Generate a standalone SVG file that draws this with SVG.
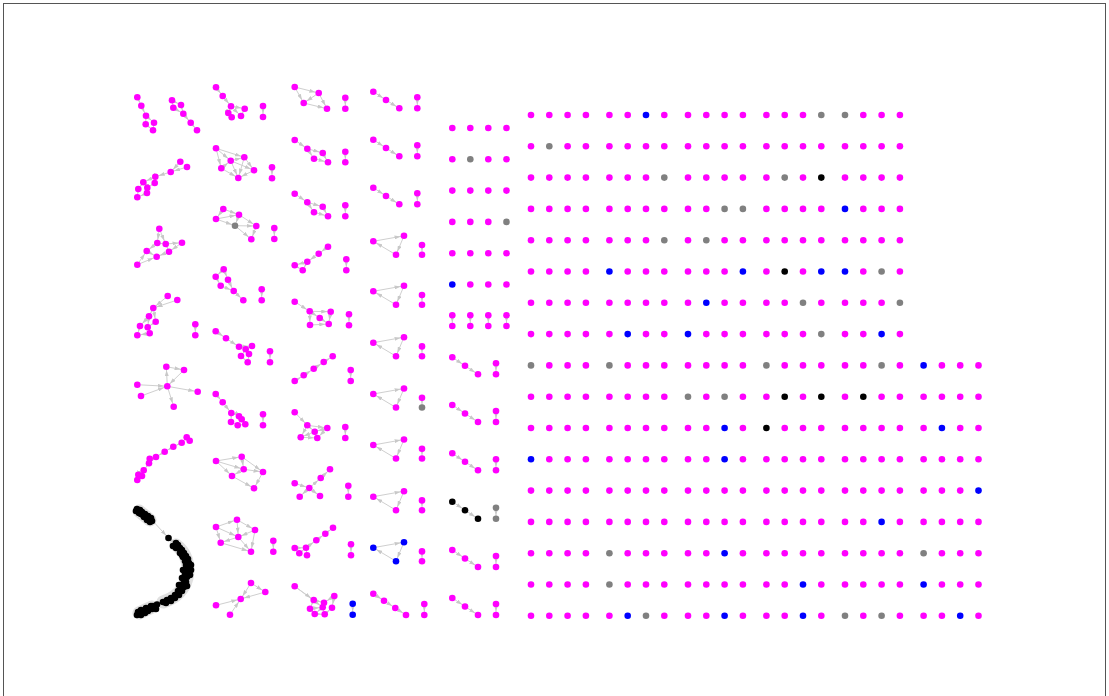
<svg xmlns="http://www.w3.org/2000/svg" width="1109" height="696" viewBox="0 0 1109 696">
<defs>
<marker id="ah" markerUnits="userSpaceOnUse" markerWidth="6" markerHeight="4" refX="9.5" refY="2" orient="auto"><path d="M0,0 L6,2 L0,4 z" fill="#c8c8c8"/></marker>
<style>
.e{stroke:#cfcfcf;stroke-width:1;fill:none;marker-end:url(#ah)}
.halo{stroke:#cccccc;stroke-width:13;fill:none;stroke-linecap:round;stroke-linejoin:round;opacity:0.6}
.m{fill:#ff00ff}.g{fill:#808080}.b{fill:#0000ff}.k{fill:#000000}
</style>
</defs>
<rect x="0" y="0" width="1109" height="696" fill="#ffffff"/>
<rect x="3.5" y="3.5" width="1102" height="720" fill="none" stroke="#555555" stroke-width="1"/>
<g id="connectors">
<path class="halo" d="M139,511 L150,520 M176,545 C186,552 190,565 187,578 C184,590 175,598 163,602 M152,607 L139,613"/>
<line class="e" x1="137.3" y1="97.3" x2="141.3" y2="105.7"/><line class="e" x1="141.3" y1="105.7" x2="146" y2="115.7"/><line class="e" x1="146" y1="115.7" x2="154" y2="122.7"/><line class="e" x1="146" y1="115.7" x2="145.7" y2="124.3"/><line class="e" x1="145.7" y1="124.3" x2="153" y2="130.3"/><line class="e" x1="154" y1="122.7" x2="153" y2="130.3"/>
<line class="e" x1="172" y1="100.3" x2="181" y2="105"/><line class="e" x1="172" y1="100.3" x2="173.3" y2="107.7"/><line class="e" x1="181" y1="105" x2="183.3" y2="113.7"/><line class="e" x1="173.3" y1="107.7" x2="183.3" y2="113.7"/><line class="e" x1="183.3" y1="113.7" x2="190.7" y2="122.7"/><line class="e" x1="190.7" y1="122.7" x2="197" y2="130.3"/>
<line class="e" x1="180.3" y1="161.7" x2="170.7" y2="172"/><line class="e" x1="187" y1="167" x2="170.7" y2="172"/><line class="e" x1="170.7" y1="172" x2="155.3" y2="176.7"/><line class="e" x1="155.3" y1="176.7" x2="143.3" y2="182.3"/><line class="e" x1="155.3" y1="176.7" x2="154.7" y2="183"/><line class="e" x1="143.3" y1="182.3" x2="138.3" y2="189"/><line class="e" x1="143.3" y1="182.3" x2="147.3" y2="187.7"/><line class="e" x1="154.7" y1="183" x2="147.3" y2="187.7"/><line class="e" x1="147.3" y1="187.7" x2="147" y2="193"/><line class="e" x1="138.3" y1="189" x2="137.3" y2="197.3"/><line class="e" x1="147" y1="193" x2="137.3" y2="197.3"/>
<line class="e" x1="159.3" y1="228.7" x2="157.3" y2="243"/><line class="e" x1="159.3" y1="228.7" x2="165.7" y2="244"/><line class="e" x1="157.3" y1="243" x2="165.7" y2="244"/><line class="e" x1="165.7" y1="244" x2="182" y2="242.7"/><line class="e" x1="157.3" y1="243" x2="146.7" y2="251"/><line class="e" x1="165.7" y1="244" x2="169" y2="251.7"/><line class="e" x1="146.7" y1="251" x2="156.7" y2="256.7"/><line class="e" x1="169" y1="251.7" x2="156.7" y2="256.7"/><line class="e" x1="182" y1="242.7" x2="169" y2="251.7"/><line class="e" x1="137.3" y1="264.7" x2="146.7" y2="251"/><line class="e" x1="137.3" y1="264.7" x2="156.7" y2="256.7"/>
<line class="e" x1="167.7" y1="296" x2="153.3" y2="308"/><line class="e" x1="177.3" y1="300" x2="153.3" y2="308"/><line class="e" x1="153.3" y1="308" x2="149" y2="316.3"/><line class="e" x1="153.3" y1="308" x2="155.7" y2="321.7"/><line class="e" x1="149" y1="316.3" x2="140" y2="326"/><line class="e" x1="149" y1="316.3" x2="147.7" y2="327.3"/><line class="e" x1="155.7" y1="321.7" x2="147.7" y2="327.3"/><line class="e" x1="140" y1="326" x2="137.3" y2="335.3"/><line class="e" x1="147.7" y1="327.3" x2="149.7" y2="333.3"/><line class="e" x1="149.7" y1="333.3" x2="137.3" y2="335.3"/><line class="e" x1="195.3" y1="324.3" x2="195.3" y2="335.3"/>
<line class="e" x1="167.3" y1="386.3" x2="166.3" y2="366.7"/><line class="e" x1="166.3" y1="366.7" x2="184" y2="370"/><line class="e" x1="184" y1="370" x2="167.3" y2="386.3"/><line class="e" x1="137.3" y1="384.7" x2="167.3" y2="386.3"/><line class="e" x1="141" y1="396" x2="167.3" y2="386.3"/><line class="e" x1="167.3" y1="386.3" x2="197.7" y2="391.7"/><line class="e" x1="167.3" y1="386.3" x2="173.7" y2="406.7"/>
<line class="e" x1="186.7" y1="437.3" x2="181.7" y2="442.7"/><line class="e" x1="181.7" y1="442.7" x2="173.3" y2="446.7"/><line class="e" x1="173.3" y1="446.7" x2="164.7" y2="451.7"/><line class="e" x1="164.7" y1="451.7" x2="156" y2="457"/><line class="e" x1="156" y1="457" x2="149" y2="463.3"/><line class="e" x1="149" y1="463.3" x2="143.7" y2="470.3"/><line class="e" x1="143.7" y1="470.3" x2="138.3" y2="474.7"/><line class="e" x1="138.3" y1="474.7" x2="137.3" y2="480"/>
<line class="e" x1="151" y1="519" x2="168.5" y2="538"/><line class="e" x1="168.5" y1="538" x2="177" y2="545"/><line class="e" x1="163" y1="602" x2="157" y2="604.5"/><line class="e" x1="157" y1="604.5" x2="151" y2="607"/>
<line class="e" x1="216" y1="87.3" x2="222.7" y2="96"/><line class="e" x1="222.7" y1="96" x2="231" y2="106.3"/><line class="e" x1="231" y1="106.3" x2="244.7" y2="108.7"/><line class="e" x1="231" y1="106.3" x2="228.3" y2="113"/><line class="e" x1="228.3" y1="113" x2="231.7" y2="117.3"/><line class="e" x1="231" y1="106.3" x2="241" y2="116"/><line class="e" x1="244.7" y1="108.7" x2="241" y2="116"/><line class="e" x1="263" y1="106" x2="263" y2="117"/>
<line class="e" x1="216" y1="148.3" x2="230.7" y2="160.7"/><line class="e" x1="216" y1="148.3" x2="244.3" y2="157.3"/><line class="e" x1="216" y1="148.3" x2="221.3" y2="168.3"/><line class="e" x1="230.7" y1="160.7" x2="244.3" y2="157.3"/><line class="e" x1="221.3" y1="168.3" x2="230.7" y2="160.7"/><line class="e" x1="230.7" y1="160.7" x2="254" y2="170.3"/><line class="e" x1="230.7" y1="160.7" x2="238.3" y2="178"/><line class="e" x1="244.3" y1="157.3" x2="254" y2="170.3"/><line class="e" x1="244.3" y1="157.3" x2="238.3" y2="178"/><line class="e" x1="221.3" y1="168.3" x2="238.3" y2="178"/><line class="e" x1="254" y1="170.3" x2="238.3" y2="178"/><line class="e" x1="272" y1="167.3" x2="272" y2="178.3"/>
<line class="e" x1="223.3" y1="209" x2="216" y2="219"/><line class="e" x1="223.3" y1="209" x2="239" y2="214.7"/><line class="e" x1="216" y1="219" x2="239" y2="214.7"/><line class="e" x1="216" y1="219" x2="235" y2="225.7"/><line class="e" x1="239" y1="214.7" x2="235" y2="225.7"/><line class="e" x1="235" y1="225.7" x2="256.3" y2="226"/><line class="e" x1="239" y1="214.7" x2="256.3" y2="226"/><line class="e" x1="256.3" y1="226" x2="251.3" y2="239.3"/><line class="e" x1="235" y1="225.7" x2="251.3" y2="239.3"/><line class="e" x1="274.3" y1="228" x2="274.3" y2="239"/>
<line class="e" x1="223.7" y1="269.3" x2="215.7" y2="276.7"/><line class="e" x1="223.7" y1="269.3" x2="228" y2="279.7"/><line class="e" x1="215.7" y1="276.7" x2="220.7" y2="285.7"/><line class="e" x1="228" y1="279.7" x2="233.7" y2="291"/><line class="e" x1="220.7" y1="285.7" x2="233.7" y2="291"/><line class="e" x1="233.7" y1="291" x2="243.3" y2="300.3"/><line class="e" x1="261.7" y1="289.3" x2="261.7" y2="300.3"/>
<line class="e" x1="215.7" y1="331.3" x2="226" y2="338.3"/><line class="e" x1="226" y1="338.3" x2="239" y2="346.7"/><line class="e" x1="239" y1="346.7" x2="252" y2="346"/><line class="e" x1="239" y1="346.7" x2="245.7" y2="349.3"/><line class="e" x1="252" y1="346" x2="245.7" y2="349.3"/><line class="e" x1="245.7" y1="349.3" x2="249" y2="354"/><line class="e" x1="245.7" y1="349.3" x2="241" y2="356"/><line class="e" x1="249" y1="354" x2="247.7" y2="362.3"/><line class="e" x1="241" y1="356" x2="247.7" y2="362.3"/><line class="e" x1="270" y1="351.3" x2="270" y2="362.3"/>
<line class="e" x1="215.7" y1="394" x2="222.7" y2="402.3"/><line class="e" x1="222.7" y1="402.3" x2="231.3" y2="413"/><line class="e" x1="231.3" y1="413" x2="239" y2="416.3"/><line class="e" x1="231.3" y1="413" x2="231" y2="422"/><line class="e" x1="239" y1="416.3" x2="241.7" y2="419.3"/><line class="e" x1="241.7" y1="419.3" x2="245.3" y2="424.3"/><line class="e" x1="231" y1="422" x2="237.7" y2="425.3"/><line class="e" x1="237.7" y1="425.3" x2="245.3" y2="424.3"/><line class="e" x1="263" y1="414.3" x2="263" y2="425.3"/>
<line class="e" x1="216" y1="461" x2="241.7" y2="456.7"/><line class="e" x1="216" y1="461" x2="232" y2="476"/><line class="e" x1="241.7" y1="456.7" x2="243.7" y2="469.3"/><line class="e" x1="241.7" y1="456.7" x2="263" y2="472"/><line class="e" x1="243.7" y1="469.3" x2="232" y2="476"/><line class="e" x1="243.7" y1="469.3" x2="263" y2="472"/><line class="e" x1="232" y1="476" x2="254" y2="488.3"/><line class="e" x1="263" y1="472" x2="254" y2="488.3"/><line class="e" x1="216" y1="461" x2="243.7" y2="469.3"/>
<line class="e" x1="216" y1="527" x2="237" y2="519.7"/><line class="e" x1="237" y1="519.7" x2="255" y2="530"/><line class="e" x1="216" y1="527" x2="238.3" y2="537"/><line class="e" x1="237" y1="519.7" x2="238.3" y2="537"/><line class="e" x1="255" y1="530" x2="238.3" y2="537"/><line class="e" x1="216" y1="527" x2="220.7" y2="542.7"/><line class="e" x1="238.3" y1="537" x2="220.7" y2="542.7"/><line class="e" x1="238.3" y1="537" x2="251" y2="551.7"/><line class="e" x1="220.7" y1="542.7" x2="251" y2="551.7"/><line class="e" x1="255" y1="530" x2="251" y2="551.7"/><line class="e" x1="273.3" y1="540.7" x2="273.3" y2="551.7"/>
<line class="e" x1="251" y1="583" x2="265.3" y2="592"/><line class="e" x1="251" y1="583" x2="240.7" y2="599"/><line class="e" x1="265.3" y1="592" x2="240.7" y2="599"/><line class="e" x1="216" y1="605.3" x2="240.7" y2="599"/><line class="e" x1="230" y1="614.7" x2="240.7" y2="599"/>
<line class="e" x1="294.7" y1="87" x2="318.7" y2="93"/><line class="e" x1="294.7" y1="87" x2="303.7" y2="103"/><line class="e" x1="318.7" y1="93" x2="303.7" y2="103"/><line class="e" x1="303.7" y1="103" x2="327" y2="108.7"/><line class="e" x1="318.7" y1="93" x2="327" y2="108.7"/><line class="e" x1="345.3" y1="97.7" x2="345.3" y2="108.7"/>
<line class="e" x1="294.7" y1="140" x2="307.3" y2="148.7"/><line class="e" x1="307.3" y1="148.7" x2="322.7" y2="153"/><line class="e" x1="307.3" y1="148.7" x2="314" y2="158.7"/><line class="e" x1="322.7" y1="153" x2="328" y2="162.3"/><line class="e" x1="314" y1="158.7" x2="328" y2="162.3"/><line class="e" x1="345.3" y1="151.7" x2="345.3" y2="162.3"/>
<line class="e" x1="294.7" y1="193.7" x2="307.3" y2="202.3"/><line class="e" x1="307.3" y1="202.3" x2="322.7" y2="206.7"/><line class="e" x1="307.3" y1="202.3" x2="314" y2="212.3"/><line class="e" x1="322.7" y1="206.7" x2="328" y2="216.3"/><line class="e" x1="314" y1="212.3" x2="328" y2="216.3"/><line class="e" x1="345.3" y1="205.3" x2="345.3" y2="216.3"/>
<line class="e" x1="328" y1="246.7" x2="318.7" y2="253.7"/><line class="e" x1="318.7" y1="253.7" x2="307.3" y2="261.7"/><line class="e" x1="307.3" y1="261.7" x2="294.7" y2="265.3"/><line class="e" x1="307.3" y1="261.7" x2="302.7" y2="270.3"/><line class="e" x1="294.7" y1="265.3" x2="302.7" y2="270.3"/><line class="e" x1="346.3" y1="259.3" x2="346.3" y2="270.3"/>
<line class="e" x1="294.7" y1="301.7" x2="309.7" y2="311.3"/><line class="e" x1="309.7" y1="311.3" x2="330.7" y2="311.7"/><line class="e" x1="309.7" y1="311.3" x2="310" y2="325"/><line class="e" x1="330.7" y1="311.7" x2="328.7" y2="324"/><line class="e" x1="310" y1="325" x2="328.7" y2="324"/><line class="e" x1="309.7" y1="311.3" x2="319.7" y2="318"/><line class="e" x1="319.7" y1="318" x2="328.7" y2="324"/><line class="e" x1="349" y1="314.3" x2="349" y2="325.3"/>
<line class="e" x1="294.7" y1="381" x2="303.7" y2="375.3"/><line class="e" x1="303.7" y1="375.3" x2="313.7" y2="368.7"/><line class="e" x1="313.7" y1="368.7" x2="323.7" y2="362"/><line class="e" x1="323.7" y1="362" x2="332.7" y2="356.3"/><line class="e" x1="350.7" y1="370" x2="350.7" y2="381"/>
<line class="e" x1="294.7" y1="412.3" x2="307.3" y2="425.3"/><line class="e" x1="307.3" y1="425.3" x2="327.3" y2="428"/><line class="e" x1="307.3" y1="425.3" x2="314.7" y2="431.7"/><line class="e" x1="307.3" y1="425.3" x2="300.7" y2="437.3"/><line class="e" x1="327.3" y1="428" x2="314.7" y2="431.7"/><line class="e" x1="314.7" y1="431.7" x2="300.7" y2="437.3"/><line class="e" x1="314.7" y1="431.7" x2="317.3" y2="438"/><line class="e" x1="300.7" y1="437.3" x2="317.3" y2="438"/><line class="e" x1="327.3" y1="428" x2="317.3" y2="438"/><line class="e" x1="345.3" y1="427" x2="345.3" y2="438"/>
<line class="e" x1="294.7" y1="483.3" x2="309.3" y2="488"/><line class="e" x1="309.3" y1="488" x2="320.7" y2="478"/><line class="e" x1="320.7" y1="478" x2="330" y2="469.3"/><line class="e" x1="309.3" y1="488" x2="299.7" y2="496.7"/><line class="e" x1="309.3" y1="488" x2="320" y2="496"/><line class="e" x1="348.3" y1="485.7" x2="348.3" y2="496.7"/>
<line class="e" x1="294.7" y1="548" x2="306" y2="547.7"/><line class="e" x1="299.3" y1="553.3" x2="306" y2="547.7"/><line class="e" x1="306" y1="547.7" x2="307" y2="555.3"/><line class="e" x1="306" y1="547.7" x2="316.3" y2="540.3"/><line class="e" x1="316.3" y1="540.3" x2="325.3" y2="533.7"/><line class="e" x1="325.3" y1="533.7" x2="333" y2="527.7"/><line class="e" x1="351" y1="544.3" x2="351" y2="555.3"/>
<line class="e" x1="294.7" y1="586.3" x2="322.7" y2="607.3"/><line class="e" x1="294.7" y1="586.3" x2="313.7" y2="600"/><line class="e" x1="313.7" y1="600" x2="324" y2="602.7"/><line class="e" x1="313.7" y1="600" x2="310" y2="608.7"/><line class="e" x1="334.3" y1="596" x2="324" y2="602.7"/><line class="e" x1="334.3" y1="596" x2="332" y2="607.7"/><line class="e" x1="310" y1="608.7" x2="314.7" y2="614"/><line class="e" x1="314.7" y1="614" x2="324.7" y2="614.3"/><line class="e" x1="324.7" y1="614.3" x2="332" y2="607.7"/><line class="e" x1="322.7" y1="607.3" x2="324.7" y2="614.3"/><line class="e" x1="322.7" y1="607.3" x2="314.7" y2="614"/><line class="e" x1="310" y1="608.7" x2="322.7" y2="607.3"/><line class="e" x1="352.7" y1="603.7" x2="352.7" y2="614.7"/>
<line class="e" x1="373.3" y1="91.7" x2="386" y2="100"/><line class="e" x1="386" y1="100" x2="399.3" y2="108.3"/><line class="e" x1="417.3" y1="97.3" x2="417.3" y2="108.3"/>
<line class="e" x1="373.3" y1="139.7" x2="386" y2="148"/><line class="e" x1="386" y1="148" x2="399.3" y2="156.3"/><line class="e" x1="417.3" y1="145.3" x2="417.3" y2="156.3"/>
<line class="e" x1="373.3" y1="187.7" x2="386" y2="196"/><line class="e" x1="386" y1="196" x2="399.3" y2="204.3"/><line class="e" x1="417.3" y1="193.3" x2="417.3" y2="204.3"/>
<line class="e" x1="373.3" y1="241.3" x2="404" y2="235.8"/><line class="e" x1="404" y1="235.8" x2="396" y2="254.8"/><line class="e" x1="396" y1="254.8" x2="373.3" y2="241.3"/><line class="e" x1="422" y1="245" x2="422" y2="254.8"/>
<line class="e" x1="373.3" y1="291.3" x2="404" y2="285.8"/><line class="e" x1="404" y1="285.8" x2="396" y2="304.8"/><line class="e" x1="396" y1="304.8" x2="373.3" y2="291.3"/><line class="e" x1="422" y1="295" x2="422" y2="304.8"/>
<line class="e" x1="373.3" y1="342.7" x2="404" y2="337.2"/><line class="e" x1="404" y1="337.2" x2="396" y2="356.2"/><line class="e" x1="396" y1="356.2" x2="373.3" y2="342.7"/><line class="e" x1="422" y1="346.4" x2="422" y2="356.2"/>
<line class="e" x1="373.3" y1="394" x2="404" y2="388.5"/><line class="e" x1="404" y1="388.5" x2="396" y2="407.5"/><line class="e" x1="396" y1="407.5" x2="373.3" y2="394"/><line class="e" x1="422" y1="397.7" x2="422" y2="407.5"/>
<line class="e" x1="373.3" y1="445" x2="404" y2="439.5"/><line class="e" x1="404" y1="439.5" x2="396" y2="458.5"/><line class="e" x1="396" y1="458.5" x2="373.3" y2="445"/><line class="e" x1="422" y1="448.7" x2="422" y2="458.5"/>
<line class="e" x1="373.3" y1="496.7" x2="404" y2="491.2"/><line class="e" x1="404" y1="491.2" x2="396" y2="510.2"/><line class="e" x1="396" y1="510.2" x2="373.3" y2="496.7"/><line class="e" x1="422" y1="500.4" x2="422" y2="510.2"/>
<line class="e" x1="373.3" y1="547.7" x2="404" y2="542.2"/><line class="e" x1="404" y1="542.2" x2="396" y2="561.2"/><line class="e" x1="396" y1="561.2" x2="373.3" y2="547.7"/><line class="e" x1="422" y1="551.4" x2="422" y2="561.2"/>
<line class="e" x1="373.3" y1="593.7" x2="384" y2="600.7"/><line class="e" x1="384" y1="600.7" x2="395.3" y2="608"/><line class="e" x1="395.3" y1="608" x2="406" y2="615"/><line class="e" x1="424.3" y1="604" x2="424.3" y2="615"/>
<line class="e" x1="452.3" y1="315.3" x2="452.3" y2="326"/><line class="e" x1="470.3" y1="315.3" x2="470.3" y2="326"/><line class="e" x1="488.3" y1="315.3" x2="488.3" y2="326"/><line class="e" x1="506.5" y1="315.3" x2="506.5" y2="326"/>
<line class="e" x1="452.3" y1="357.3" x2="465" y2="365.8"/><line class="e" x1="465" y1="365.8" x2="478" y2="374.3"/><line class="e" x1="496" y1="363.3" x2="496" y2="374.3"/>
<line class="e" x1="452.3" y1="405" x2="465" y2="413.5"/><line class="e" x1="465" y1="413.5" x2="478" y2="422"/><line class="e" x1="496" y1="411" x2="496" y2="422"/>
<line class="e" x1="452.3" y1="453.3" x2="465" y2="461.8"/><line class="e" x1="465" y1="461.8" x2="478" y2="470.3"/><line class="e" x1="496" y1="459.3" x2="496" y2="470.3"/>
<line class="e" x1="452.3" y1="501.7" x2="465" y2="510.2"/><line class="e" x1="465" y1="510.2" x2="478" y2="518.7"/><line class="e" x1="496" y1="507.7" x2="496" y2="518.7"/>
<line class="e" x1="452.3" y1="550" x2="465" y2="558.5"/><line class="e" x1="465" y1="558.5" x2="478" y2="567"/><line class="e" x1="496" y1="556" x2="496" y2="567"/>
<line class="e" x1="452.3" y1="598" x2="465" y2="606.5"/><line class="e" x1="465" y1="606.5" x2="478" y2="615"/><line class="e" x1="496" y1="604" x2="496" y2="615"/>
</g>
<g id="graph-t" class="m"><circle cx="137.3" cy="97.3" r="3.3"/><circle cx="141.3" cy="105.7" r="3.3"/><circle cx="146" cy="115.7" r="3.3"/><circle cx="154" cy="122.7" r="3.3"/><circle cx="145.7" cy="124.3" r="3.3"/><circle cx="153" cy="130.3" r="3.3"/></g>
<g id="graph-u" class="m"><circle cx="172" cy="100.3" r="3.3"/><circle cx="181" cy="105" r="3.3"/><circle cx="173.3" cy="107.7" r="3.3"/><circle cx="183.3" cy="113.7" r="3.3"/><circle cx="190.7" cy="122.7" r="3.3"/><circle cx="197" cy="130.3" r="3.3"/></g>
<g id="graph-v" class="m"><circle cx="180.3" cy="161.7" r="3.3"/><circle cx="187" cy="167" r="3.3"/><circle cx="170.7" cy="172" r="3.3"/><circle cx="155.3" cy="176.7" r="3.3"/><circle cx="143.3" cy="182.3" r="3.3"/><circle cx="154.7" cy="183" r="3.3"/><circle cx="138.3" cy="189" r="3.3"/><circle cx="147.3" cy="187.7" r="3.3"/><circle cx="147" cy="193" r="3.3"/><circle cx="137.3" cy="197.3" r="3.3"/></g>
<g id="graph-w" class="m"><circle cx="159.3" cy="228.7" r="3.3"/><circle cx="157.3" cy="243" r="3.3"/><circle cx="165.7" cy="244" r="3.3"/><circle cx="182" cy="242.7" r="3.3"/><circle cx="146.7" cy="251" r="3.3"/><circle cx="169" cy="251.7" r="3.3"/><circle cx="156.7" cy="256.7" r="3.3"/><circle cx="137.3" cy="264.7" r="3.3"/></g>
<g id="graph-x" class="m"><circle cx="167.7" cy="296" r="3.3"/><circle cx="177.3" cy="300" r="3.3"/><circle cx="153.3" cy="308" r="3.3"/><circle cx="149" cy="316.3" r="3.3"/><circle cx="155.7" cy="321.7" r="3.3"/><circle cx="140" cy="326" r="3.3"/><circle cx="147.7" cy="327.3" r="3.3"/><circle cx="149.7" cy="333.3" r="3.3"/><circle cx="137.3" cy="335.3" r="3.3"/><circle cx="195.3" cy="324.3" r="3.3"/><circle cx="195.3" cy="335.3" r="3.3"/></g>
<g id="graph-y" class="m"><circle cx="166.3" cy="366.7" r="3.3"/><circle cx="184" cy="370" r="3.3"/><circle cx="137.3" cy="384.7" r="3.3"/><circle cx="167.3" cy="386.3" r="3.3"/><circle cx="141" cy="396" r="3.3"/><circle cx="197.7" cy="391.7" r="3.3"/><circle cx="173.7" cy="406.7" r="3.3"/></g>
<g id="graph-z" class="m"><circle cx="186.7" cy="437.3" r="3.3"/><circle cx="189.7" cy="440.7" r="3.3"/><circle cx="181.7" cy="442.7" r="3.3"/><circle cx="173.3" cy="446.7" r="3.3"/><circle cx="164.7" cy="451.7" r="3.3"/><circle cx="156" cy="457" r="3.3"/><circle cx="149.7" cy="458.7" r="3.3"/><circle cx="149" cy="463.3" r="3.3"/><circle cx="143.7" cy="470.3" r="3.3"/><circle cx="138.3" cy="474.7" r="3.3"/><circle cx="142" cy="476" r="3.3"/><circle cx="137.3" cy="480" r="3.3"/></g>
<g id="graph-big" class="k"><circle cx="137" cy="509" r="3.3"/><circle cx="140" cy="510" r="3.3"/><circle cx="139" cy="513" r="3.3"/><circle cx="142" cy="512" r="3.3"/><circle cx="143" cy="515" r="3.3"/><circle cx="145" cy="514" r="3.3"/><circle cx="146" cy="517" r="3.3"/><circle cx="148" cy="516" r="3.3"/><circle cx="149" cy="519" r="3.3"/><circle cx="151" cy="518" r="3.3"/><circle cx="150" cy="522" r="3.3"/><circle cx="152" cy="521" r="3.3"/><circle cx="147" cy="520" r="3.3"/><circle cx="144" cy="517" r="3.3"/><circle cx="141" cy="514" r="3.3"/><circle cx="168.5" cy="538" r="3.3"/><circle cx="176" cy="543" r="3.3"/><circle cx="178" cy="545" r="3.3"/><circle cx="176" cy="548" r="3.3"/><circle cx="180" cy="548" r="3.3"/><circle cx="182" cy="550" r="3.3"/><circle cx="180" cy="553" r="3.3"/><circle cx="184" cy="553" r="3.3"/><circle cx="186" cy="556" r="3.3"/><circle cx="183" cy="557" r="3.3"/><circle cx="188" cy="559" r="3.3"/><circle cx="185" cy="561" r="3.3"/><circle cx="189" cy="563" r="3.3"/><circle cx="186" cy="565" r="3.3"/><circle cx="189" cy="567" r="3.3"/><circle cx="186" cy="569" r="3.3"/><circle cx="188" cy="572" r="3.3"/><circle cx="185" cy="574" r="3.3"/><circle cx="187" cy="577" r="3.3"/><circle cx="184" cy="579" r="3.3"/><circle cx="186" cy="582" r="3.3"/><circle cx="183" cy="584" r="3.3"/><circle cx="184" cy="587" r="3.3"/><circle cx="181" cy="588" r="3.3"/><circle cx="182" cy="591" r="3.3"/><circle cx="178" cy="591" r="3.3"/><circle cx="179" cy="595" r="3.3"/><circle cx="175" cy="595" r="3.3"/><circle cx="175" cy="598" r="3.3"/><circle cx="171" cy="598" r="3.3"/><circle cx="171" cy="601" r="3.3"/><circle cx="167" cy="600" r="3.3"/><circle cx="166" cy="603" r="3.3"/><circle cx="163" cy="602" r="3.3"/><circle cx="157" cy="604.5" r="3.3"/><circle cx="151" cy="606" r="3.3"/><circle cx="149" cy="609" r="3.3"/><circle cx="146" cy="608" r="3.3"/><circle cx="144" cy="611" r="3.3"/><circle cx="141" cy="610" r="3.3"/><circle cx="140" cy="613" r="3.3"/><circle cx="138" cy="612" r="3.3"/><circle cx="137" cy="615" r="3.3"/><circle cx="141" cy="615" r="3.3"/><circle cx="145" cy="613" r="3.3"/><circle cx="148" cy="611" r="3.3"/><circle cx="152" cy="609" r="3.3"/><circle cx="153" cy="606" r="3.3"/><circle cx="191" cy="565" r="3.3"/><circle cx="191" cy="570" r="3.3"/><circle cx="190" cy="575" r="3.3"/><circle cx="183" cy="570" r="3.3"/><circle cx="182" cy="578" r="3.3"/><circle cx="182" cy="555" r="3.3"/><circle cx="179" cy="585" r="3.3"/><circle cx="187" cy="586" r="3.3"/><circle cx="173" cy="546" r="3.3"/><circle cx="156" cy="609" r="3.3"/><circle cx="136" cy="511" r="3.3"/></g>
<g id="graph-k" class="m"><circle cx="216" cy="87.3" r="3.3"/><circle cx="222.7" cy="96" r="3.3"/><circle cx="231" cy="106.3" r="3.3"/><circle cx="244.7" cy="108.7" r="3.3"/><circle cx="228.3" cy="113" r="3.3"/><circle cx="231.7" cy="117.3" r="3.3"/><circle cx="241" cy="116" r="3.3"/><circle cx="263" cy="106" r="3.3"/><circle cx="263" cy="117" r="3.3"/></g>
<g id="graph-l" class="m"><circle cx="216" cy="148.3" r="3.3"/><circle cx="230.7" cy="160.7" r="3.3"/><circle cx="244.3" cy="157.3" r="3.3"/><circle cx="221.3" cy="168.3" r="3.3"/><circle cx="254" cy="170.3" r="3.3"/><circle cx="238.3" cy="178" r="3.3"/><circle cx="272" cy="167.3" r="3.3"/><circle cx="272" cy="178.3" r="3.3"/></g>
<g id="graph-m" class="m"><circle cx="223.3" cy="209" r="3.3"/><circle cx="216" cy="219" r="3.3"/><circle cx="239" cy="214.7" r="3.3"/><circle class="g" cx="235" cy="225.7" r="3.3"/><circle cx="256.3" cy="226" r="3.3"/><circle cx="251.3" cy="239.3" r="3.3"/><circle cx="274.3" cy="228" r="3.3"/><circle cx="274.3" cy="239" r="3.3"/></g>
<g id="graph-n" class="m"><circle cx="223.7" cy="269.3" r="3.3"/><circle cx="215.7" cy="276.7" r="3.3"/><circle cx="228" cy="279.7" r="3.3"/><circle cx="220.7" cy="285.7" r="3.3"/><circle cx="233.7" cy="291" r="3.3"/><circle cx="243.3" cy="300.3" r="3.3"/><circle cx="261.7" cy="289.3" r="3.3"/><circle cx="261.7" cy="300.3" r="3.3"/></g>
<g id="graph-o" class="m"><circle cx="215.7" cy="331.3" r="3.3"/><circle cx="226" cy="338.3" r="3.3"/><circle cx="239" cy="346.7" r="3.3"/><circle cx="252" cy="346" r="3.3"/><circle cx="245.7" cy="349.3" r="3.3"/><circle cx="249" cy="354" r="3.3"/><circle cx="241" cy="356" r="3.3"/><circle cx="247.7" cy="362.3" r="3.3"/><circle cx="270" cy="351.3" r="3.3"/><circle cx="270" cy="362.3" r="3.3"/></g>
<g id="graph-p" class="m"><circle cx="215.7" cy="394" r="3.3"/><circle cx="222.7" cy="402.3" r="3.3"/><circle cx="231.3" cy="413" r="3.3"/><circle cx="239" cy="416.3" r="3.3"/><circle cx="241.7" cy="419.3" r="3.3"/><circle cx="231" cy="422" r="3.3"/><circle cx="237.7" cy="425.3" r="3.3"/><circle cx="245.3" cy="424.3" r="3.3"/><circle cx="263" cy="414.3" r="3.3"/><circle cx="263" cy="425.3" r="3.3"/></g>
<g id="graph-q" class="m"><circle cx="216" cy="461" r="3.3"/><circle cx="241.7" cy="456.7" r="3.3"/><circle cx="243.7" cy="469.3" r="3.3"/><circle cx="232" cy="476" r="3.3"/><circle cx="263" cy="472" r="3.3"/><circle cx="254" cy="488.3" r="3.3"/></g>
<g id="graph-r" class="m"><circle cx="216" cy="527" r="3.3"/><circle cx="237" cy="519.7" r="3.3"/><circle cx="255" cy="530" r="3.3"/><circle cx="238.3" cy="537" r="3.3"/><circle cx="220.7" cy="542.7" r="3.3"/><circle cx="251" cy="551.7" r="3.3"/><circle cx="273.3" cy="540.7" r="3.3"/><circle cx="273.3" cy="551.7" r="3.3"/></g>
<g id="graph-s" class="m"><circle cx="251" cy="583" r="3.3"/><circle cx="265.3" cy="592" r="3.3"/><circle cx="240.7" cy="599" r="3.3"/><circle cx="216" cy="605.3" r="3.3"/><circle cx="230" cy="614.7" r="3.3"/></g>
<g id="graph-a" class="m"><circle cx="294.7" cy="87" r="3.3"/><circle cx="318.7" cy="93" r="3.3"/><circle cx="303.7" cy="103" r="3.3"/><circle cx="327" cy="108.7" r="3.3"/><circle cx="345.3" cy="97.7" r="3.3"/><circle cx="345.3" cy="108.7" r="3.3"/></g>
<g id="graph-b" class="m"><circle cx="294.7" cy="140" r="3.3"/><circle cx="307.3" cy="148.7" r="3.3"/><circle cx="322.7" cy="153" r="3.3"/><circle cx="314" cy="158.7" r="3.3"/><circle cx="328" cy="162.3" r="3.3"/><circle cx="345.3" cy="151.7" r="3.3"/><circle cx="345.3" cy="162.3" r="3.3"/></g>
<g id="graph-c" class="m"><circle cx="294.7" cy="193.7" r="3.3"/><circle cx="307.3" cy="202.3" r="3.3"/><circle cx="322.7" cy="206.7" r="3.3"/><circle cx="314" cy="212.3" r="3.3"/><circle cx="328" cy="216.3" r="3.3"/><circle cx="345.3" cy="205.3" r="3.3"/><circle cx="345.3" cy="216.3" r="3.3"/></g>
<g id="graph-d" class="m"><circle cx="328" cy="246.7" r="3.3"/><circle cx="318.7" cy="253.7" r="3.3"/><circle cx="307.3" cy="261.7" r="3.3"/><circle cx="294.7" cy="265.3" r="3.3"/><circle cx="302.7" cy="270.3" r="3.3"/><circle cx="346.3" cy="259.3" r="3.3"/><circle cx="346.3" cy="270.3" r="3.3"/></g>
<g id="graph-e" class="m"><circle cx="294.7" cy="301.7" r="3.3"/><circle cx="309.7" cy="311.3" r="3.3"/><circle cx="330.7" cy="311.7" r="3.3"/><circle cx="319.7" cy="318" r="3.3"/><circle cx="310" cy="325" r="3.3"/><circle cx="328.7" cy="324" r="3.3"/><circle cx="349" cy="314.3" r="3.3"/><circle cx="349" cy="325.3" r="3.3"/></g>
<g id="graph-f" class="m"><circle cx="294.7" cy="381" r="3.3"/><circle cx="303.7" cy="375.3" r="3.3"/><circle cx="313.7" cy="368.7" r="3.3"/><circle cx="323.7" cy="362" r="3.3"/><circle cx="332.7" cy="356.3" r="3.3"/><circle cx="350.7" cy="370" r="3.3"/><circle cx="350.7" cy="381" r="3.3"/></g>
<g id="graph-g" class="m"><circle cx="294.7" cy="412.3" r="3.3"/><circle cx="307.3" cy="425.3" r="3.3"/><circle cx="327.3" cy="428" r="3.3"/><circle cx="314.7" cy="431.7" r="3.3"/><circle cx="300.7" cy="437.3" r="3.3"/><circle cx="317.3" cy="438" r="3.3"/><circle cx="345.3" cy="427" r="3.3"/><circle cx="345.3" cy="438" r="3.3"/></g>
<g id="graph-h" class="m"><circle cx="294.7" cy="483.3" r="3.3"/><circle cx="309.3" cy="488" r="3.3"/><circle cx="330" cy="469.3" r="3.3"/><circle cx="320.7" cy="478" r="3.3"/><circle cx="299.7" cy="496.7" r="3.3"/><circle cx="320" cy="496" r="3.3"/><circle cx="348.3" cy="485.7" r="3.3"/><circle cx="348.3" cy="496.7" r="3.3"/></g>
<g id="graph-i" class="m"><circle cx="294.7" cy="548" r="3.3"/><circle cx="299.3" cy="553.3" r="3.3"/><circle cx="306" cy="547.7" r="3.3"/><circle cx="307" cy="555.3" r="3.3"/><circle cx="316.3" cy="540.3" r="3.3"/><circle cx="325.3" cy="533.7" r="3.3"/><circle cx="333" cy="527.7" r="3.3"/><circle cx="351" cy="544.3" r="3.3"/><circle cx="351" cy="555.3" r="3.3"/></g>
<g id="graph-j" class="m"><circle cx="294.7" cy="586.3" r="3.3"/><circle cx="334.3" cy="596" r="3.3"/><circle cx="313.7" cy="600" r="3.3"/><circle cx="324" cy="602.7" r="3.3"/><circle cx="310" cy="608.7" r="3.3"/><circle cx="332" cy="607.7" r="3.3"/><circle cx="314.7" cy="614" r="3.3"/><circle cx="324.7" cy="614.3" r="3.3"/><circle cx="322.7" cy="607.3" r="3.3"/><circle class="b" cx="352.7" cy="603.7" r="3.3"/><circle class="b" cx="352.7" cy="614.7" r="3.3"/></g>
<g id="chain-c4-1" class="m"><circle cx="373.3" cy="91.7" r="3.3"/><circle cx="386" cy="100" r="3.3"/><circle cx="399.3" cy="108.3" r="3.3"/><circle cx="417.3" cy="97.3" r="3.3"/><circle cx="417.3" cy="108.3" r="3.3"/></g>
<g id="chain-c4-2" class="m"><circle cx="373.3" cy="139.7" r="3.3"/><circle cx="386" cy="148" r="3.3"/><circle cx="399.3" cy="156.3" r="3.3"/><circle cx="417.3" cy="145.3" r="3.3"/><circle cx="417.3" cy="156.3" r="3.3"/></g>
<g id="chain-c4-3" class="m"><circle cx="373.3" cy="187.7" r="3.3"/><circle cx="386" cy="196" r="3.3"/><circle cx="399.3" cy="204.3" r="3.3"/><circle cx="417.3" cy="193.3" r="3.3"/><circle cx="417.3" cy="204.3" r="3.3"/></g>
<g id="tri-1" class="m"><circle cx="373.3" cy="241.3" r="3.3"/><circle cx="404" cy="235.8" r="3.3"/><circle cx="396" cy="254.8" r="3.3"/><circle cx="422" cy="245" r="3.3"/><circle cx="422" cy="254.8" r="3.3"/></g>
<g id="tri-2" class="m"><circle cx="373.3" cy="291.3" r="3.3"/><circle cx="404" cy="285.8" r="3.3"/><circle cx="396" cy="304.8" r="3.3"/><circle cx="422" cy="295" r="3.3"/><circle cx="422" cy="304.8" r="3.3"/></g>
<g id="tri-3" class="m"><circle cx="373.3" cy="342.7" r="3.3"/><circle cx="404" cy="337.2" r="3.3"/><circle cx="396" cy="356.2" r="3.3"/><circle cx="422" cy="346.4" r="3.3"/><circle cx="422" cy="356.2" r="3.3"/></g>
<g id="tri-4" class="m"><circle cx="373.3" cy="394" r="3.3"/><circle cx="404" cy="388.5" r="3.3"/><circle cx="396" cy="407.5" r="3.3"/><circle cx="422" cy="397.7" r="3.3"/><circle class="g" cx="422" cy="407.5" r="3.3"/></g>
<g id="tri-5" class="m"><circle cx="373.3" cy="445" r="3.3"/><circle cx="404" cy="439.5" r="3.3"/><circle cx="396" cy="458.5" r="3.3"/><circle cx="422" cy="448.7" r="3.3"/><circle cx="422" cy="458.5" r="3.3"/></g>
<g id="tri-6" class="m"><circle cx="373.3" cy="496.7" r="3.3"/><circle cx="404" cy="491.2" r="3.3"/><circle cx="396" cy="510.2" r="3.3"/><circle cx="422" cy="500.4" r="3.3"/><circle cx="422" cy="510.2" r="3.3"/></g>
<g id="tri-7" class="m"><circle class="b" cx="373.3" cy="547.7" r="3.3"/><circle class="b" cx="404" cy="542.2" r="3.3"/><circle class="b" cx="396" cy="561.2" r="3.3"/><circle cx="422" cy="551.4" r="3.3"/><circle cx="422" cy="561.2" r="3.3"/></g>
<g id="chain-c4-4" class="m"><circle cx="373.3" cy="593.7" r="3.3"/><circle cx="384" cy="600.7" r="3.3"/><circle cx="395.3" cy="608" r="3.3"/><circle cx="406" cy="615" r="3.3"/><circle cx="424.3" cy="604" r="3.3"/><circle cx="424.3" cy="615" r="3.3"/></g>
<g id="col5-singles" class="m">
<circle cx="452.3" cy="128" r="3.3"/><circle cx="470.3" cy="128" r="3.3"/><circle cx="488.3" cy="128" r="3.3"/><circle cx="506.5" cy="128" r="3.3"/>
<circle cx="452.3" cy="159.3" r="3.3"/><circle class="g" cx="470.3" cy="159.3" r="3.3"/><circle cx="488.3" cy="159.3" r="3.3"/><circle cx="506.5" cy="159.3" r="3.3"/>
<circle cx="452.3" cy="190.6" r="3.3"/><circle cx="470.3" cy="190.6" r="3.3"/><circle cx="488.3" cy="190.6" r="3.3"/><circle cx="506.5" cy="190.6" r="3.3"/>
<circle cx="452.3" cy="221.9" r="3.3"/><circle cx="470.3" cy="221.9" r="3.3"/><circle cx="488.3" cy="221.9" r="3.3"/><circle class="g" cx="506.5" cy="221.9" r="3.3"/>
<circle cx="452.3" cy="253.2" r="3.3"/><circle cx="470.3" cy="253.2" r="3.3"/><circle cx="488.3" cy="253.2" r="3.3"/><circle cx="506.5" cy="253.2" r="3.3"/>
<circle class="b" cx="452.3" cy="284.5" r="3.3"/><circle cx="470.3" cy="284.5" r="3.3"/><circle cx="488.3" cy="284.5" r="3.3"/><circle cx="506.5" cy="284.5" r="3.3"/>
</g>
<g id="col5-pairs" class="m">
<circle cx="452.3" cy="315.3" r="3.3"/><circle cx="452.3" cy="326" r="3.3"/><circle cx="470.3" cy="315.3" r="3.3"/><circle cx="470.3" cy="326" r="3.3"/><circle cx="488.3" cy="315.3" r="3.3"/><circle cx="488.3" cy="326" r="3.3"/><circle cx="506.5" cy="315.3" r="3.3"/><circle cx="506.5" cy="326" r="3.3"/>
</g>
<g id="chain-c5-1" class="m"><circle cx="452.3" cy="357.3" r="3.3"/><circle cx="465" cy="365.8" r="3.3"/><circle cx="478" cy="374.3" r="3.3"/><circle cx="496" cy="363.3" r="3.3"/><circle cx="496" cy="374.3" r="3.3"/></g>
<g id="chain-c5-2" class="m"><circle cx="452.3" cy="405" r="3.3"/><circle cx="465" cy="413.5" r="3.3"/><circle cx="478" cy="422" r="3.3"/><circle cx="496" cy="411" r="3.3"/><circle cx="496" cy="422" r="3.3"/></g>
<g id="chain-c5-3" class="m"><circle cx="452.3" cy="453.3" r="3.3"/><circle cx="465" cy="461.8" r="3.3"/><circle cx="478" cy="470.3" r="3.3"/><circle cx="496" cy="459.3" r="3.3"/><circle cx="496" cy="470.3" r="3.3"/></g>
<g id="chain-c5-4"><circle class="k" cx="452.3" cy="501.7" r="3.3"/><circle class="k" cx="465" cy="510.2" r="3.3"/><circle class="k" cx="478" cy="518.7" r="3.3"/><circle class="g" cx="496" cy="507.7" r="3.3"/><circle class="g" cx="496" cy="518.7" r="3.3"/></g>
<g id="chain-c5-5" class="m"><circle cx="452.3" cy="550" r="3.3"/><circle cx="465" cy="558.5" r="3.3"/><circle cx="478" cy="567" r="3.3"/><circle cx="496" cy="556" r="3.3"/><circle cx="496" cy="567" r="3.3"/></g>
<g id="chain-c5-6" class="m"><circle cx="452.3" cy="598" r="3.3"/><circle cx="465" cy="606.5" r="3.3"/><circle cx="478" cy="615" r="3.3"/><circle cx="496" cy="604" r="3.3"/><circle cx="496" cy="615" r="3.3"/></g>
<g id="singletons" class="m">
<g id="row0"><circle cx="531" cy="115" r="3.3"/><circle cx="549.3" cy="115" r="3.3"/><circle cx="567.6" cy="115" r="3.3"/><circle cx="585.9" cy="115" r="3.3"/><circle cx="609.4" cy="115" r="3.3"/><circle cx="627.7" cy="115" r="3.3"/><circle class="b" cx="646" cy="115" r="3.3"/><circle cx="664.3" cy="115" r="3.3"/><circle cx="688" cy="115" r="3.3"/><circle cx="706.3" cy="115" r="3.3"/><circle cx="724.6" cy="115" r="3.3"/><circle cx="742.9" cy="115" r="3.3"/><circle cx="766.4" cy="115" r="3.3"/><circle cx="784.7" cy="115" r="3.3"/><circle cx="803" cy="115" r="3.3"/><circle class="g" cx="821.3" cy="115" r="3.3"/><circle class="g" cx="845" cy="115" r="3.3"/><circle cx="863.3" cy="115" r="3.3"/><circle cx="881.6" cy="115" r="3.3"/><circle cx="899.9" cy="115" r="3.3"/></g>
<g id="row1"><circle cx="531" cy="146.3" r="3.3"/><circle class="g" cx="549.3" cy="146.3" r="3.3"/><circle cx="567.6" cy="146.3" r="3.3"/><circle cx="585.9" cy="146.3" r="3.3"/><circle cx="609.4" cy="146.3" r="3.3"/><circle cx="627.7" cy="146.3" r="3.3"/><circle cx="646" cy="146.3" r="3.3"/><circle cx="664.3" cy="146.3" r="3.3"/><circle cx="688" cy="146.3" r="3.3"/><circle cx="706.3" cy="146.3" r="3.3"/><circle cx="724.6" cy="146.3" r="3.3"/><circle cx="742.9" cy="146.3" r="3.3"/><circle cx="766.4" cy="146.3" r="3.3"/><circle cx="784.7" cy="146.3" r="3.3"/><circle cx="803" cy="146.3" r="3.3"/><circle cx="821.3" cy="146.3" r="3.3"/><circle cx="845" cy="146.3" r="3.3"/><circle cx="863.3" cy="146.3" r="3.3"/><circle cx="881.6" cy="146.3" r="3.3"/><circle cx="899.9" cy="146.3" r="3.3"/></g>
<g id="row2"><circle cx="531" cy="177.6" r="3.3"/><circle cx="549.3" cy="177.6" r="3.3"/><circle cx="567.6" cy="177.6" r="3.3"/><circle cx="585.9" cy="177.6" r="3.3"/><circle cx="609.4" cy="177.6" r="3.3"/><circle cx="627.7" cy="177.6" r="3.3"/><circle cx="646" cy="177.6" r="3.3"/><circle class="g" cx="664.3" cy="177.6" r="3.3"/><circle cx="688" cy="177.6" r="3.3"/><circle cx="706.3" cy="177.6" r="3.3"/><circle cx="724.6" cy="177.6" r="3.3"/><circle cx="742.9" cy="177.6" r="3.3"/><circle cx="766.4" cy="177.6" r="3.3"/><circle class="g" cx="784.7" cy="177.6" r="3.3"/><circle cx="803" cy="177.6" r="3.3"/><circle class="k" cx="821.3" cy="177.6" r="3.3"/><circle cx="845" cy="177.6" r="3.3"/><circle cx="863.3" cy="177.6" r="3.3"/><circle cx="881.6" cy="177.6" r="3.3"/><circle cx="899.9" cy="177.6" r="3.3"/></g>
<g id="row3"><circle cx="531" cy="208.9" r="3.3"/><circle cx="549.3" cy="208.9" r="3.3"/><circle cx="567.6" cy="208.9" r="3.3"/><circle cx="585.9" cy="208.9" r="3.3"/><circle cx="609.4" cy="208.9" r="3.3"/><circle cx="627.7" cy="208.9" r="3.3"/><circle cx="646" cy="208.9" r="3.3"/><circle cx="664.3" cy="208.9" r="3.3"/><circle cx="688" cy="208.9" r="3.3"/><circle cx="706.3" cy="208.9" r="3.3"/><circle class="g" cx="724.6" cy="208.9" r="3.3"/><circle class="g" cx="742.9" cy="208.9" r="3.3"/><circle cx="766.4" cy="208.9" r="3.3"/><circle cx="784.7" cy="208.9" r="3.3"/><circle cx="803" cy="208.9" r="3.3"/><circle cx="821.3" cy="208.9" r="3.3"/><circle class="b" cx="845" cy="208.9" r="3.3"/><circle cx="863.3" cy="208.9" r="3.3"/><circle cx="881.6" cy="208.9" r="3.3"/><circle cx="899.9" cy="208.9" r="3.3"/></g>
<g id="row4"><circle cx="531" cy="240.2" r="3.3"/><circle cx="549.3" cy="240.2" r="3.3"/><circle cx="567.6" cy="240.2" r="3.3"/><circle cx="585.9" cy="240.2" r="3.3"/><circle cx="609.4" cy="240.2" r="3.3"/><circle cx="627.7" cy="240.2" r="3.3"/><circle cx="646" cy="240.2" r="3.3"/><circle class="g" cx="664.3" cy="240.2" r="3.3"/><circle cx="688" cy="240.2" r="3.3"/><circle class="g" cx="706.3" cy="240.2" r="3.3"/><circle cx="724.6" cy="240.2" r="3.3"/><circle cx="742.9" cy="240.2" r="3.3"/><circle cx="766.4" cy="240.2" r="3.3"/><circle cx="784.7" cy="240.2" r="3.3"/><circle cx="803" cy="240.2" r="3.3"/><circle cx="821.3" cy="240.2" r="3.3"/><circle cx="845" cy="240.2" r="3.3"/><circle cx="863.3" cy="240.2" r="3.3"/><circle cx="881.6" cy="240.2" r="3.3"/><circle cx="899.9" cy="240.2" r="3.3"/></g>
<g id="row5"><circle cx="531" cy="271.5" r="3.3"/><circle cx="549.3" cy="271.5" r="3.3"/><circle cx="567.6" cy="271.5" r="3.3"/><circle cx="585.9" cy="271.5" r="3.3"/><circle class="b" cx="609.4" cy="271.5" r="3.3"/><circle cx="627.7" cy="271.5" r="3.3"/><circle cx="646" cy="271.5" r="3.3"/><circle cx="664.3" cy="271.5" r="3.3"/><circle cx="688" cy="271.5" r="3.3"/><circle cx="706.3" cy="271.5" r="3.3"/><circle cx="724.6" cy="271.5" r="3.3"/><circle class="b" cx="742.9" cy="271.5" r="3.3"/><circle cx="766.4" cy="271.5" r="3.3"/><circle class="k" cx="784.7" cy="271.5" r="3.3"/><circle cx="803" cy="271.5" r="3.3"/><circle class="b" cx="821.3" cy="271.5" r="3.3"/><circle class="b" cx="845" cy="271.5" r="3.3"/><circle cx="863.3" cy="271.5" r="3.3"/><circle class="g" cx="881.6" cy="271.5" r="3.3"/><circle cx="899.9" cy="271.5" r="3.3"/></g>
<g id="row6"><circle cx="531" cy="302.8" r="3.3"/><circle cx="549.3" cy="302.8" r="3.3"/><circle cx="567.6" cy="302.8" r="3.3"/><circle cx="585.9" cy="302.8" r="3.3"/><circle cx="609.4" cy="302.8" r="3.3"/><circle cx="627.7" cy="302.8" r="3.3"/><circle cx="646" cy="302.8" r="3.3"/><circle cx="664.3" cy="302.8" r="3.3"/><circle cx="688" cy="302.8" r="3.3"/><circle class="b" cx="706.3" cy="302.8" r="3.3"/><circle cx="724.6" cy="302.8" r="3.3"/><circle cx="742.9" cy="302.8" r="3.3"/><circle cx="766.4" cy="302.8" r="3.3"/><circle cx="784.7" cy="302.8" r="3.3"/><circle class="g" cx="803" cy="302.8" r="3.3"/><circle cx="821.3" cy="302.8" r="3.3"/><circle cx="845" cy="302.8" r="3.3"/><circle cx="863.3" cy="302.8" r="3.3"/><circle cx="881.6" cy="302.8" r="3.3"/><circle class="g" cx="899.9" cy="302.8" r="3.3"/></g>
<g id="row7"><circle cx="531" cy="334.1" r="3.3"/><circle cx="549.3" cy="334.1" r="3.3"/><circle cx="567.6" cy="334.1" r="3.3"/><circle cx="585.9" cy="334.1" r="3.3"/><circle cx="609.4" cy="334.1" r="3.3"/><circle class="b" cx="627.7" cy="334.1" r="3.3"/><circle cx="646" cy="334.1" r="3.3"/><circle cx="664.3" cy="334.1" r="3.3"/><circle class="b" cx="688" cy="334.1" r="3.3"/><circle cx="706.3" cy="334.1" r="3.3"/><circle cx="724.6" cy="334.1" r="3.3"/><circle cx="742.9" cy="334.1" r="3.3"/><circle cx="766.4" cy="334.1" r="3.3"/><circle cx="784.7" cy="334.1" r="3.3"/><circle cx="803" cy="334.1" r="3.3"/><circle class="g" cx="821.3" cy="334.1" r="3.3"/><circle cx="845" cy="334.1" r="3.3"/><circle cx="863.3" cy="334.1" r="3.3"/><circle class="b" cx="881.6" cy="334.1" r="3.3"/><circle cx="899.9" cy="334.1" r="3.3"/></g>
<g id="row8"><circle class="g" cx="531" cy="365.4" r="3.3"/><circle cx="549.3" cy="365.4" r="3.3"/><circle cx="567.6" cy="365.4" r="3.3"/><circle cx="585.9" cy="365.4" r="3.3"/><circle class="g" cx="609.4" cy="365.4" r="3.3"/><circle cx="627.7" cy="365.4" r="3.3"/><circle cx="646" cy="365.4" r="3.3"/><circle cx="664.3" cy="365.4" r="3.3"/><circle cx="688" cy="365.4" r="3.3"/><circle cx="706.3" cy="365.4" r="3.3"/><circle cx="724.6" cy="365.4" r="3.3"/><circle cx="742.9" cy="365.4" r="3.3"/><circle class="g" cx="766.4" cy="365.4" r="3.3"/><circle cx="784.7" cy="365.4" r="3.3"/><circle cx="803" cy="365.4" r="3.3"/><circle cx="821.3" cy="365.4" r="3.3"/><circle cx="845" cy="365.4" r="3.3"/><circle cx="863.3" cy="365.4" r="3.3"/><circle class="g" cx="881.6" cy="365.4" r="3.3"/><circle cx="899.9" cy="365.4" r="3.3"/><circle class="b" cx="923.6" cy="365.4" r="3.3"/><circle cx="941.9" cy="365.4" r="3.3"/><circle cx="960.2" cy="365.4" r="3.3"/><circle cx="978.5" cy="365.4" r="3.3"/></g>
<g id="row9"><circle cx="531" cy="396.7" r="3.3"/><circle cx="549.3" cy="396.7" r="3.3"/><circle cx="567.6" cy="396.7" r="3.3"/><circle cx="585.9" cy="396.7" r="3.3"/><circle cx="609.4" cy="396.7" r="3.3"/><circle cx="627.7" cy="396.7" r="3.3"/><circle cx="646" cy="396.7" r="3.3"/><circle cx="664.3" cy="396.7" r="3.3"/><circle class="g" cx="688" cy="396.7" r="3.3"/><circle cx="706.3" cy="396.7" r="3.3"/><circle class="g" cx="724.6" cy="396.7" r="3.3"/><circle cx="742.9" cy="396.7" r="3.3"/><circle cx="766.4" cy="396.7" r="3.3"/><circle class="k" cx="784.7" cy="396.7" r="3.3"/><circle cx="803" cy="396.7" r="3.3"/><circle class="k" cx="821.3" cy="396.7" r="3.3"/><circle cx="845" cy="396.7" r="3.3"/><circle class="k" cx="863.3" cy="396.7" r="3.3"/><circle cx="881.6" cy="396.7" r="3.3"/><circle cx="899.9" cy="396.7" r="3.3"/><circle cx="923.6" cy="396.7" r="3.3"/><circle cx="941.9" cy="396.7" r="3.3"/><circle cx="960.2" cy="396.7" r="3.3"/><circle cx="978.5" cy="396.7" r="3.3"/></g>
<g id="row10"><circle cx="531" cy="428" r="3.3"/><circle cx="549.3" cy="428" r="3.3"/><circle cx="567.6" cy="428" r="3.3"/><circle cx="585.9" cy="428" r="3.3"/><circle cx="609.4" cy="428" r="3.3"/><circle cx="627.7" cy="428" r="3.3"/><circle cx="646" cy="428" r="3.3"/><circle cx="664.3" cy="428" r="3.3"/><circle cx="688" cy="428" r="3.3"/><circle cx="706.3" cy="428" r="3.3"/><circle class="b" cx="724.6" cy="428" r="3.3"/><circle cx="742.9" cy="428" r="3.3"/><circle class="k" cx="766.4" cy="428" r="3.3"/><circle cx="784.7" cy="428" r="3.3"/><circle cx="803" cy="428" r="3.3"/><circle cx="821.3" cy="428" r="3.3"/><circle cx="845" cy="428" r="3.3"/><circle cx="863.3" cy="428" r="3.3"/><circle cx="881.6" cy="428" r="3.3"/><circle cx="899.9" cy="428" r="3.3"/><circle cx="923.6" cy="428" r="3.3"/><circle class="b" cx="941.9" cy="428" r="3.3"/><circle cx="960.2" cy="428" r="3.3"/><circle cx="978.5" cy="428" r="3.3"/></g>
<g id="row11"><circle class="b" cx="531" cy="459.3" r="3.3"/><circle cx="549.3" cy="459.3" r="3.3"/><circle cx="567.6" cy="459.3" r="3.3"/><circle cx="585.9" cy="459.3" r="3.3"/><circle cx="609.4" cy="459.3" r="3.3"/><circle cx="627.7" cy="459.3" r="3.3"/><circle cx="646" cy="459.3" r="3.3"/><circle cx="664.3" cy="459.3" r="3.3"/><circle cx="688" cy="459.3" r="3.3"/><circle cx="706.3" cy="459.3" r="3.3"/><circle class="b" cx="724.6" cy="459.3" r="3.3"/><circle cx="742.9" cy="459.3" r="3.3"/><circle cx="766.4" cy="459.3" r="3.3"/><circle cx="784.7" cy="459.3" r="3.3"/><circle cx="803" cy="459.3" r="3.3"/><circle cx="821.3" cy="459.3" r="3.3"/><circle cx="845" cy="459.3" r="3.3"/><circle cx="863.3" cy="459.3" r="3.3"/><circle cx="881.6" cy="459.3" r="3.3"/><circle cx="899.9" cy="459.3" r="3.3"/><circle cx="923.6" cy="459.3" r="3.3"/><circle cx="941.9" cy="459.3" r="3.3"/><circle cx="960.2" cy="459.3" r="3.3"/><circle cx="978.5" cy="459.3" r="3.3"/></g>
<g id="row12"><circle cx="531" cy="490.6" r="3.3"/><circle cx="549.3" cy="490.6" r="3.3"/><circle cx="567.6" cy="490.6" r="3.3"/><circle cx="585.9" cy="490.6" r="3.3"/><circle cx="609.4" cy="490.6" r="3.3"/><circle cx="627.7" cy="490.6" r="3.3"/><circle cx="646" cy="490.6" r="3.3"/><circle cx="664.3" cy="490.6" r="3.3"/><circle cx="688" cy="490.6" r="3.3"/><circle cx="706.3" cy="490.6" r="3.3"/><circle cx="724.6" cy="490.6" r="3.3"/><circle cx="742.9" cy="490.6" r="3.3"/><circle cx="766.4" cy="490.6" r="3.3"/><circle cx="784.7" cy="490.6" r="3.3"/><circle cx="803" cy="490.6" r="3.3"/><circle cx="821.3" cy="490.6" r="3.3"/><circle cx="845" cy="490.6" r="3.3"/><circle cx="863.3" cy="490.6" r="3.3"/><circle cx="881.6" cy="490.6" r="3.3"/><circle cx="899.9" cy="490.6" r="3.3"/><circle cx="923.6" cy="490.6" r="3.3"/><circle cx="941.9" cy="490.6" r="3.3"/><circle cx="960.2" cy="490.6" r="3.3"/><circle class="b" cx="978.5" cy="490.6" r="3.3"/></g>
<g id="row13"><circle cx="531" cy="521.9" r="3.3"/><circle cx="549.3" cy="521.9" r="3.3"/><circle cx="567.6" cy="521.9" r="3.3"/><circle cx="585.9" cy="521.9" r="3.3"/><circle cx="609.4" cy="521.9" r="3.3"/><circle cx="627.7" cy="521.9" r="3.3"/><circle cx="646" cy="521.9" r="3.3"/><circle cx="664.3" cy="521.9" r="3.3"/><circle cx="688" cy="521.9" r="3.3"/><circle cx="706.3" cy="521.9" r="3.3"/><circle cx="724.6" cy="521.9" r="3.3"/><circle cx="742.9" cy="521.9" r="3.3"/><circle cx="766.4" cy="521.9" r="3.3"/><circle cx="784.7" cy="521.9" r="3.3"/><circle cx="803" cy="521.9" r="3.3"/><circle cx="821.3" cy="521.9" r="3.3"/><circle cx="845" cy="521.9" r="3.3"/><circle cx="863.3" cy="521.9" r="3.3"/><circle class="b" cx="881.6" cy="521.9" r="3.3"/><circle cx="899.9" cy="521.9" r="3.3"/><circle cx="923.6" cy="521.9" r="3.3"/><circle cx="941.9" cy="521.9" r="3.3"/><circle cx="960.2" cy="521.9" r="3.3"/><circle cx="978.5" cy="521.9" r="3.3"/></g>
<g id="row14"><circle cx="531" cy="553.2" r="3.3"/><circle cx="549.3" cy="553.2" r="3.3"/><circle cx="567.6" cy="553.2" r="3.3"/><circle cx="585.9" cy="553.2" r="3.3"/><circle class="g" cx="609.4" cy="553.2" r="3.3"/><circle cx="627.7" cy="553.2" r="3.3"/><circle cx="646" cy="553.2" r="3.3"/><circle cx="664.3" cy="553.2" r="3.3"/><circle cx="688" cy="553.2" r="3.3"/><circle cx="706.3" cy="553.2" r="3.3"/><circle class="b" cx="724.6" cy="553.2" r="3.3"/><circle cx="742.9" cy="553.2" r="3.3"/><circle cx="766.4" cy="553.2" r="3.3"/><circle cx="784.7" cy="553.2" r="3.3"/><circle cx="803" cy="553.2" r="3.3"/><circle cx="821.3" cy="553.2" r="3.3"/><circle cx="845" cy="553.2" r="3.3"/><circle cx="863.3" cy="553.2" r="3.3"/><circle cx="881.6" cy="553.2" r="3.3"/><circle cx="899.9" cy="553.2" r="3.3"/><circle class="g" cx="923.6" cy="553.2" r="3.3"/><circle cx="941.9" cy="553.2" r="3.3"/><circle cx="960.2" cy="553.2" r="3.3"/><circle cx="978.5" cy="553.2" r="3.3"/></g>
<g id="row15"><circle cx="531" cy="584.5" r="3.3"/><circle cx="549.3" cy="584.5" r="3.3"/><circle cx="567.6" cy="584.5" r="3.3"/><circle cx="585.9" cy="584.5" r="3.3"/><circle class="g" cx="609.4" cy="584.5" r="3.3"/><circle cx="627.7" cy="584.5" r="3.3"/><circle cx="646" cy="584.5" r="3.3"/><circle cx="664.3" cy="584.5" r="3.3"/><circle cx="688" cy="584.5" r="3.3"/><circle cx="706.3" cy="584.5" r="3.3"/><circle cx="724.6" cy="584.5" r="3.3"/><circle cx="742.9" cy="584.5" r="3.3"/><circle cx="766.4" cy="584.5" r="3.3"/><circle cx="784.7" cy="584.5" r="3.3"/><circle class="b" cx="803" cy="584.5" r="3.3"/><circle cx="821.3" cy="584.5" r="3.3"/><circle cx="845" cy="584.5" r="3.3"/><circle cx="863.3" cy="584.5" r="3.3"/><circle cx="881.6" cy="584.5" r="3.3"/><circle cx="899.9" cy="584.5" r="3.3"/><circle class="b" cx="923.6" cy="584.5" r="3.3"/><circle cx="941.9" cy="584.5" r="3.3"/><circle cx="960.2" cy="584.5" r="3.3"/><circle cx="978.5" cy="584.5" r="3.3"/></g>
<g id="row16"><circle cx="531" cy="615.8" r="3.3"/><circle cx="549.3" cy="615.8" r="3.3"/><circle cx="567.6" cy="615.8" r="3.3"/><circle cx="585.9" cy="615.8" r="3.3"/><circle cx="609.4" cy="615.8" r="3.3"/><circle class="b" cx="627.7" cy="615.8" r="3.3"/><circle class="g" cx="646" cy="615.8" r="3.3"/><circle cx="664.3" cy="615.8" r="3.3"/><circle cx="688" cy="615.8" r="3.3"/><circle cx="706.3" cy="615.8" r="3.3"/><circle class="b" cx="724.6" cy="615.8" r="3.3"/><circle cx="742.9" cy="615.8" r="3.3"/><circle cx="766.4" cy="615.8" r="3.3"/><circle cx="784.7" cy="615.8" r="3.3"/><circle class="b" cx="803" cy="615.8" r="3.3"/><circle cx="821.3" cy="615.8" r="3.3"/><circle class="g" cx="845" cy="615.8" r="3.3"/><circle cx="863.3" cy="615.8" r="3.3"/><circle class="g" cx="881.6" cy="615.8" r="3.3"/><circle cx="899.9" cy="615.8" r="3.3"/><circle cx="923.6" cy="615.8" r="3.3"/><circle cx="941.9" cy="615.8" r="3.3"/><circle class="b" cx="960.2" cy="615.8" r="3.3"/><circle cx="978.5" cy="615.8" r="3.3"/></g>
</g>
</svg>
